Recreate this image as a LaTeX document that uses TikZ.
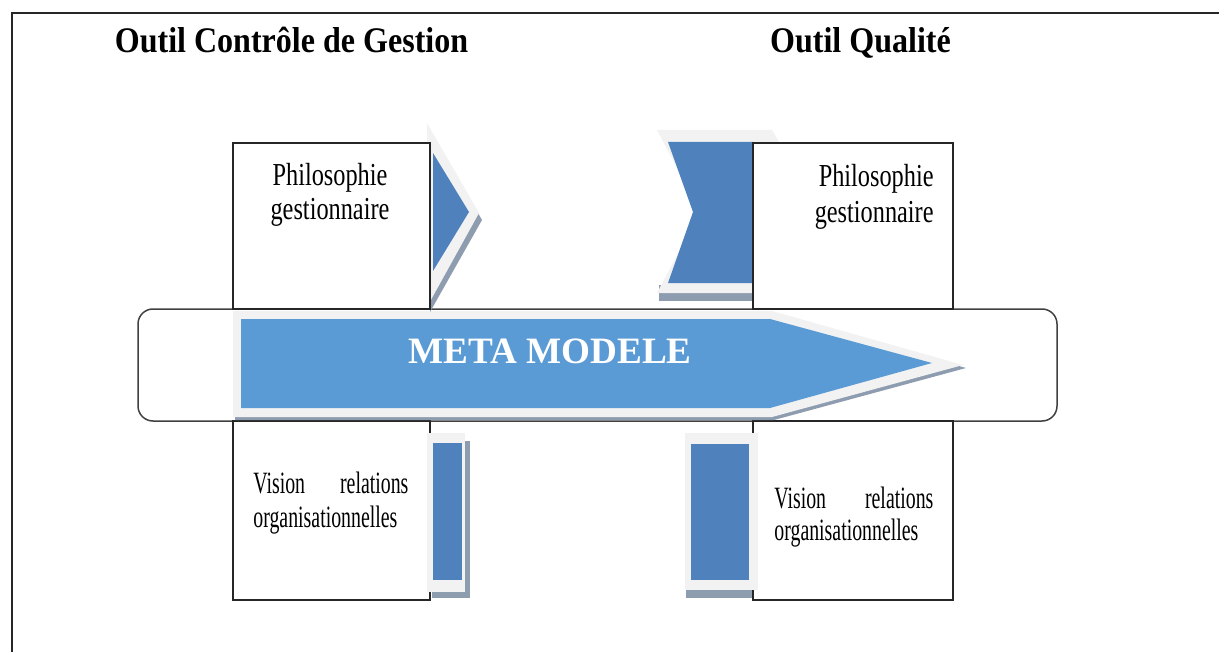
\documentclass[tikz,border=0pt]{standalone}
\usepackage{fontspec}
\setmainfont{Liberation Serif}
\newfontfamily\titlefont[FakeStretch=0.89]{Liberation Serif}
\newfontfamily\philofont[FakeStretch=0.76]{Liberation Serif}
\newfontfamily\visionfont[FakeStretch=0.64]{Liberation Serif}
\definecolor{blueA}{HTML}{4F81BD}
\definecolor{blueB}{HTML}{5B9BD5}
\definecolor{glow}{HTML}{F2F2F2}
\definecolor{shade}{HTML}{8E9CB0}
\tikzset{
  boxst/.style={draw=black!85, line width=0.75pt, fill=white, inner sep=0pt, outer sep=0pt},
  band/.style={draw=black!75, line width=0.75pt, fill=white, rounded corners=7.5pt, inner sep=0pt},
  glowst/.style={fill=glow},
  shadest/.style={fill=shade},
  titlest/.style={font=\titlefont\bfseries\fontsize{18pt}{20pt}\selectfont, inner sep=0pt},
  philost/.style={font=\philofont\fontsize{16pt}{18pt}\selectfont, inner sep=0pt},
  visionst/.style={font=\visionfont\fontsize{15.5pt}{17pt}\selectfont, inner sep=0pt},
  metast/.style={font=\bfseries\fontsize{18.6pt}{20pt}\selectfont, text=white, inner sep=0pt}
}
\begin{document}
\begin{tikzpicture}[x=0.5pt,y=-0.5pt]
\useasboundingbox (0,0) rectangle (1219,652);
% frame
\draw[line width=1pt, black!85] (1219,13) -- (12,13) -- (12,652);
% titles
\node[titlest, anchor=base] (t1) at (291.5,53) {Outil Contrôle de Gestion};
\node[titlest, anchor=base] (t2) at (860.5,53) {Outil Qualité};
% central band
\node[band, minimum width=459.5pt, minimum height=56pt] (band) at (597.5,365) {};
% bottom boxes
\node[boxst, minimum width=98.5pt, minimum height=89.5pt] (bl) at (331.5,510.5) {};
\node[boxst, minimum width=100pt, minimum height=89.5pt] (br) at (853,510.5) {};
% bottom blue bars
\fill[shadest] (432,441) rectangle (470,598);
\fill[glowst] (427,433) rectangle (465,592);
\fill[blueA] (433,443) rectangle (462,580);
\fill[shadest] (686,441) rectangle (752,598);
\fill[glowst] (685,433) rectangle (758,590);
\fill[blueA] (691,444) rectangle (749,580);
% big arrow
\fill[shadest] (235,314) -- (774,314) -- (966,368) -- (774,420) -- (235,420) -- cycle;
\fill[glowst] (233,311) -- (772,311) -- (963,365) -- (772,417) -- (233,417) -- cycle;
\fill[blueB] (241,319) -- (770,319) -- (932,363) -- (770,408) -- (241,408) -- cycle;
\node[metast, anchor=base] (meta) at (550,363) {META MODELE};
% top left triangle
\fill[shadest] (430,130) -- (482,220) -- (430,312) -- cycle;
\fill[glowst] (427,123) -- (479,213) -- (427,307) -- cycle;
\fill[blueA] (433,153) -- (469,212) -- (433,271) -- cycle;
% top right chevron
\fill[shadest] (659,285) rectangle (760,301);
\fill[glowst] (657,130) -- (772,130) -- (820,212) -- (772,293) -- (657,293) -- (700,212) -- cycle;
\fill[blueA] (668,142) -- (753,142) -- (753,283) -- (668,283) -- (693,212) -- cycle;
% top boxes
\node[boxst, minimum width=98.5pt, minimum height=83pt] (tl) at (331.5,226) {};
\node[boxst, minimum width=100pt, minimum height=83pt] (tr) at (853,226) {};
% texts
\node[philost, anchor=base] (pl1) at (330,185) {Philosophie};
\node[philost, anchor=base] (pl2) at (330,220) {gestionnaire};
\node[philost, anchor=base east] (pr1) at (934,187) {Philosophie};
\node[philost, anchor=base east] (pr2) at (934,222) {gestionnaire};
\node[visionst, anchor=base west] (vl1) at (253,493) {\hbox to 77.5pt{Vision\hfill relations}};
\node[visionst, anchor=base west] (vl2) at (253,527) {organisationnelles};
\node[visionst, anchor=base west] (vr1) at (774,508) {\hbox to 79.5pt{Vision\hfill relations}};
\node[visionst, anchor=base west] (vr2) at (774,540) {organisationnelles};
\end{tikzpicture}
\end{document}
